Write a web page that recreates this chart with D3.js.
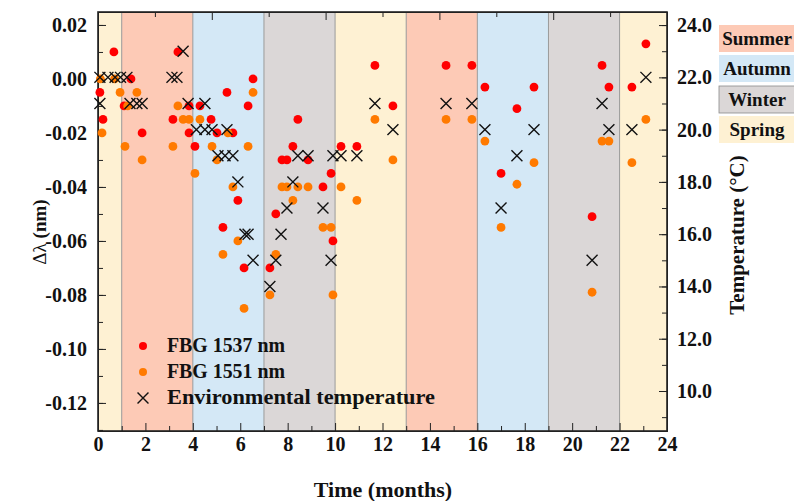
<!DOCTYPE html>
<html>
<head>
<meta charset="utf-8">
<script src="https://cdnjs.cloudflare.com/ajax/libs/d3/7.8.5/d3.min.js"></script>
<style>
  body { margin: 0; background: #fff; }
  svg text { font-family: "Liberation Serif", "Times New Roman", serif; font-weight: bold; fill: #111; }
  .axis path, .axis line { stroke: #222; }
</style>
</head>
<body>
<svg id="chart" width="794" height="501"></svg>
<script>
// season bands (months)
var seasonStarts = [0, 1, 4, 7, 10, 13, 16, 19, 22];
var seasonEnds   = [1, 4, 7, 10, 13, 16, 19, 22, 24];
var seasonNames  = ['Spring', 'Summer', 'Autumn', 'Winter', 'Spring', 'Summer', 'Autumn', 'Winter', 'Spring'];
var legendSeasons = ['Summer', 'Autumn', 'Winter', 'Spring'];

// [month, delta lambda (nm)]
var fbg1537 = [
  [0.08, -0.005], [0.21, -0.015], [0.67, 0.010], [1.10, -0.010], [1.39, 0.000], [1.86, -0.020],
  [3.16, -0.015], [3.37, 0.010], [3.84, -0.010], [3.84, -0.020], [4.09, -0.025], [4.30, -0.010],
  [4.77, -0.015], [5.02, -0.020], [5.27, -0.055], [5.44, -0.005], [5.69, -0.020], [5.90, -0.045],
  [6.16, -0.070], [6.33, -0.010], [6.54, 0.000],
  [7.25, -0.070], [7.50, -0.050], [7.76, -0.030], [7.97, -0.030], [8.22, -0.025], [8.43, -0.015],
  [8.86, -0.030], [9.49, -0.040], [9.83, -0.035], [9.91, -0.060], [10.25, -0.025], [10.92, -0.025],
  [11.68, 0.005], [12.44, -0.010],
  [14.68, 0.005], [15.77, 0.005], [16.32, -0.003], [17.00, -0.035], [17.67, -0.011], [18.39, -0.003],
  [20.84, -0.051], [21.26, 0.005], [21.55, -0.003], [22.52, -0.003], [23.11, 0.013]
];

var fbg1551 = [
  [0.10, 0.000], [0.17, -0.020], [0.70, 0.000], [0.93, -0.005], [1.14, -0.025], [1.25, -0.010],
  [1.64, -0.005], [1.86, -0.030],
  [3.16, -0.025], [3.37, -0.010], [3.59, -0.015], [3.84, -0.015], [4.09, -0.035], [4.30, -0.015],
  [4.81, -0.025], [5.02, -0.030], [5.27, -0.065], [5.48, -0.020], [5.69, -0.040], [5.90, -0.060],
  [6.16, -0.085], [6.33, -0.025], [6.54, -0.005],
  [7.25, -0.080], [7.50, -0.065], [7.76, -0.040], [7.97, -0.040], [8.22, -0.045], [8.43, -0.040],
  [8.86, -0.040], [9.49, -0.055], [9.83, -0.055], [9.91, -0.080], [10.25, -0.040], [10.92, -0.045],
  [11.68, -0.015], [12.44, -0.030],
  [14.68, -0.015], [15.77, -0.015], [16.32, -0.023], [17.00, -0.055], [17.67, -0.039], [18.39, -0.031],
  [20.84, -0.079], [21.26, -0.023], [21.55, -0.023], [22.52, -0.031], [23.11, -0.015]
];

// [month, temperature (C)]
var envTemp = [
  [0.08, 22], [0.08, 21], [0.42, 22], [0.72, 22], [0.95, 22], [1.22, 22], [1.35, 21], [1.64, 21], [1.86, 21],
  [3.12, 22], [3.33, 22], [3.59, 23], [3.80, 21], [4.15, 20], [4.51, 21], [4.51, 20], [4.81, 20],
  [5.06, 19], [5.36, 19], [5.44, 20], [5.69, 19], [5.90, 18], [6.20, 16], [6.33, 16], [6.54, 15],
  [7.25, 14], [7.50, 15], [7.72, 16], [7.97, 17], [8.22, 18], [8.43, 19], [8.86, 19], [9.49, 17],
  [9.83, 15], [9.91, 19], [10.25, 19], [10.92, 19], [11.68, 21], [12.44, 20],
  [14.68, 21], [15.77, 21], [16.32, 20], [17.00, 17], [17.67, 19], [18.39, 20],
  [20.84, 15], [21.26, 21], [21.55, 20], [22.52, 20], [23.11, 22]
];

var xTicks = d3.range(0, 25, 2);
var leftTicks = d3.range(-12, 3, 2).map(function(d) { return d / 100; });
var rightTicks = d3.range(10, 25, 2);

var seasonColor = {
  Summer: '#fdcab6',
  Autumn: '#d4e8f6',
  Winter: '#dbd7d7',
  Spring: '#fef1d3'
};

var margin = { top: 12, right: 127, bottom: 70, left: 98 };
var width = 794 - margin.left - margin.right;
var height = 501 - margin.top - margin.bottom;

var svg = d3.select('#chart');
var chart = svg.append('g')
  .attr('transform', 'translate(' + margin.left + ',' + margin.top + ')');

var x = d3.scaleLinear().domain([0, 24]).range([0, width]);
var y = d3.scaleLinear().domain([-0.1304, 0.0248]).range([height, 0]);
var yT = d3.scaleLinear().domain([8.47, 24.5]).range([height, 0]);

// season backgrounds
chart.selectAll('.band')
  .data(seasonStarts)
  .enter().append('rect')
  .attr('class', 'band')
  .attr('x', function(d) { return x(d); })
  .attr('y', 0)
  .attr('width', function(d, i) { return x(seasonEnds[i]) - x(d); })
  .attr('height', height)
  .attr('fill', function(d, i) { return seasonColor[seasonNames[i]]; });

chart.selectAll('.sep')
  .data(seasonStarts.slice(1))
  .enter().append('line')
  .attr('x1', function(d) { return x(d); })
  .attr('x2', function(d) { return x(d); })
  .attr('y1', 0)
  .attr('y2', height)
  .attr('stroke', '#9a9a9a')
  .attr('stroke-width', 1);

// axes, ticks pointing inward
function fmt2(d) { return d.toFixed(2).replace('-0.00', '0.00'); }

chart.append('g').attr('class', 'axis')
  .call(d3.axisLeft(y).tickValues(d3.range(-13, 3).map(function(d) { return d / 100; }))
    .tickSizeInner(-5).tickSizeOuter(0).tickFormat(''));
chart.append('g').attr('class', 'axis y-left')
  .call(d3.axisLeft(y).tickValues(leftTicks).tickSizeInner(-8).tickSizeOuter(0)
    .tickPadding(11).tickFormat(fmt2));

chart.append('g').attr('class', 'axis')
  .attr('transform', 'translate(' + width + ',0)')
  .call(d3.axisRight(yT).tickValues(d3.range(9, 25)).tickSizeInner(-5).tickSizeOuter(0).tickFormat(''));
chart.append('g').attr('class', 'axis y-right')
  .attr('transform', 'translate(' + width + ',0)')
  .call(d3.axisRight(yT).tickValues(rightTicks).tickSizeInner(-8).tickSizeOuter(0)
    .tickPadding(10).tickFormat(function(d) { return d.toFixed(1); }));

chart.append('g').attr('class', 'axis')
  .attr('transform', 'translate(0,' + height + ')')
  .call(d3.axisBottom(x).tickValues(d3.range(1, 24, 2)).tickSizeInner(-5).tickSizeOuter(0).tickFormat(''));
chart.append('g').attr('class', 'axis x-bottom')
  .attr('transform', 'translate(0,' + height + ')')
  .call(d3.axisBottom(x).tickValues(xTicks).tickSizeInner(-8).tickSizeOuter(0).tickPadding(6));

chart.append('g').attr('class', 'axis')
  .call(d3.axisTop(x).tickValues([2.4, 7.2, 12, 16.8, 21.6]).tickSizeInner(-5).tickSizeOuter(0).tickFormat(''));
chart.append('g').attr('class', 'axis')
  .call(d3.axisTop(x).tickValues([4.8, 9.6, 14.4, 19.2]).tickSizeInner(-8).tickSizeOuter(0).tickFormat(''));

svg.selectAll('.axis text').style('font-size', '20px').style('font-family', '"Liberation Serif", serif')
  .style('font-weight', 'bold').attr('fill', '#111');

// frame
chart.append('rect')
  .attr('width', width)
  .attr('height', height)
  .attr('fill', 'none')
  .attr('stroke', '#222')
  .attr('stroke-width', 1.6);

// data
chart.selectAll('.p1537')
  .data(fbg1537)
  .enter().append('circle')
  .attr('cx', function(d) { return x(d[0]); })
  .attr('cy', function(d) { return y(d[1]); })
  .attr('r', 4.4)
  .attr('fill', '#ff0000');

chart.selectAll('.p1551')
  .data(fbg1551)
  .enter().append('circle')
  .attr('cx', function(d) { return x(d[0]); })
  .attr('cy', function(d) { return y(d[1]); })
  .attr('r', 4.4)
  .attr('fill', '#ff7a00');

var cross = d3.symbol().type(d3.symbolTimes).size(80);
chart.selectAll('.temp')
  .data(envTemp)
  .enter().append('path')
  .attr('d', cross)
  .attr('transform', function(d) { return 'translate(' + x(d[0]) + ',' + yT(d[1]) + ')'; })
  .attr('fill', 'none')
  .attr('stroke', '#111')
  .attr('stroke-width', 1.4);

// series legend
var legend = [
  { label: 'FBG 1537 nm', kind: 'dot', color: '#ff0000', w: 118 },
  { label: 'FBG 1551 nm', kind: 'dot', color: '#ff7a00', w: 118 },
  { label: 'Environmental temperature', kind: 'cross', color: '#111', w: 268 }
];
var lg = svg.selectAll('.lg')
  .data(legend)
  .enter().append('g')
  .attr('transform', function(d, i) { return 'translate(143,' + (346 + i * 26) + ')'; });
lg.filter(function(d) { return d.kind === 'dot'; })
  .append('circle').attr('r', 4).attr('fill', function(d) { return d.color; });
lg.filter(function(d) { return d.kind === 'cross'; })
  .append('path').attr('d', cross).attr('fill', 'none').attr('stroke', '#111').attr('stroke-width', 1.4);
lg.append('text')
  .attr('x', 24)
  .attr('y', 6)
  .attr('textLength', function(d) { return d.w; })
  .attr('lengthAdjust', 'spacingAndGlyphs')
  .style('font-size', '20px')
  .text(function(d) { return d.label; });

// season legend
var sl = svg.selectAll('.sl')
  .data(legendSeasons)
  .enter().append('g')
  .attr('transform', function(d, i) { return 'translate(719,' + [25, 55, 86, 116][i] + ')'; });
sl.append('rect')
  .attr('width', 80)
  .attr('height', 27)
  .attr('fill', function(d) { return seasonColor[d]; })
  .attr('stroke', function(d) { return d === 'Winter' ? '#8a8a8a' : 'none'; })
  .attr('stroke-width', 0.8);
sl.append('text')
  .attr('x', 38)
  .attr('y', 20)
  .attr('text-anchor', 'middle')
  .style('font-size', '19px')
  .text(function(d) { return d; });

// axis titles
svg.append('text')
  .attr('transform', 'translate(46,232) rotate(-90)')
  .attr('text-anchor', 'middle')
  .style('font-size', '19px')
  .html('<tspan style="font-weight:normal">Δλ</tspan> (nm)');

svg.append('text')
  .attr('transform', 'translate(744,235) rotate(-90)')
  .attr('text-anchor', 'middle')
  .style('font-size', '21px')
  .text('Temperature (°C)');

svg.append('text')
  .attr('x', 383)
  .attr('y', 497)
  .attr('text-anchor', 'middle')
  .style('font-size', '22px')
  .text('Time (months)');
</script>
</body>
</html>
